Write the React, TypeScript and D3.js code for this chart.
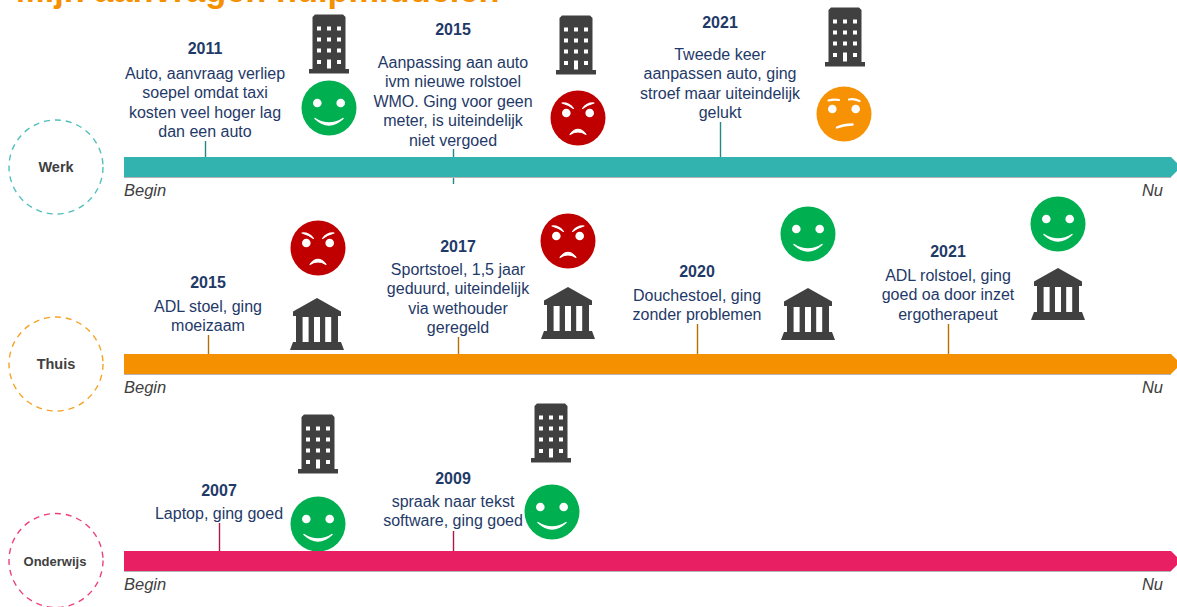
import * as d3 from 'd3';

// lanes
const laneNames = ['Werk', 'Thuis', 'Onderwijs'];
const laneColors = ['#33b3b0', '#f59100', '#e81f63'];
const title = 'Mijn aanvragen hulpmiddelen';

// werk events, position is % along the timeline
const werkYears = ['2011', '2015', '2021'];
const werkPos = [7.7, 31.2, 56.6];
const werkMoods = ['happy', 'angry', 'doubt'];
const werkIcons = ['office', 'office', 'office'];
const werkTexts = [
  ['Auto, aanvraag verliep', 'soepel omdat taxi', 'kosten veel hoger lag', 'dan een auto'],
  ['Aanpassing aan auto', 'ivm nieuwe rolstoel', 'WMO. Ging voor geen', 'meter, is uiteindelijk', 'niet vergoed'],
  ['Tweede keer', 'aanpassen auto, ging', 'stroef maar uiteindelijk', 'gelukt'],
];

// thuis events
const thuisYears = ['2015', '2017', '2020', '2021'];
const thuisPos = [8, 31.7, 54.4, 78.3];
const thuisMoods = ['angry', 'angry', 'happy', 'happy'];
const thuisIcons = ['bank', 'bank', 'bank', 'bank'];
const thuisTexts = [
  ['ADL stoel, ging', 'moeizaam'],
  ['Sportstoel, 1,5 jaar', 'geduurd, uiteindelijk', 'via wethouder', 'geregeld'],
  ['Douchestoel, ging', 'zonder problemen'],
  ['ADL rolstoel, ging', 'goed oa door inzet', 'ergotherapeut'],
];

// onderwijs events
const onderwijsYears = ['2007', '2009'];
const onderwijsPos = [9, 31.2];
const onderwijsMoods = ['happy', 'happy'];
const onderwijsIcons = ['office', 'office'];
const onderwijsTexts = [
  ['Laptop, ging goed'],
  ['spraak naar tekst', 'software, ging goed'],
];

// placement of each callout, relative to its tick and the top of the bar:
// [yearUp, textGap, faceDx, faceUp, iconDx, iconUp, tickUp, tickDown]
const werkPlace = [
  [109, 25, 124, 49, 124, 113, 16, 0],
  [128, 33, 125, 39, 123, 112, 8, 7],
  [135, 32, 124, 43, 125, 120, 35, 0],
];
const thuisPlace = [
  [72, 24, 110, 106, 109, 30, 19, 0],
  [108, 23, 110, 113, 110, 41, 17, 0],
  [83, 24, 111, 120, 111, 40, 30, 0],
  [103, 24, 110, 130, 110, 60, 30, 0],
];
const onderwijsPlace = [
  [61, 23, 99, 27, 99, 107, 28, 0],
  [73, 23, 99, 39, 98, 118, 20, 0],
];

const W = 1177;
const H = 607;
const NAVY = '#1f3a68';
const GREY = '#404040';
const FONT = '"Liberation Sans", Arial, sans-serif';
const LINE_H = 19.5;
const BAR_H = 20;

const x = d3.scaleLinear().domain([0, 100]).range([124, 1177]);
const barTop = d3.scalePoint<string>().domain(laneNames).range([157, 551]);

const moodColor: Record<string, string> = { happy: '#00b050', angry: '#c00000', doubt: '#f79205' };

const laneEvents = [
  { years: werkYears, pos: werkPos, moods: werkMoods, icons: werkIcons, texts: werkTexts, place: werkPlace },
  { years: thuisYears, pos: thuisPos, moods: thuisMoods, icons: thuisIcons, texts: thuisTexts, place: thuisPlace },
  { years: onderwijsYears, pos: onderwijsPos, moods: onderwijsMoods, icons: onderwijsIcons, texts: onderwijsTexts, place: onderwijsPlace },
];

function Face({ mood, cx, cy }: { mood: string; cx: number; cy: number }) {
  const stroke = { stroke: '#fff', fill: 'none', strokeLinecap: 'round' as const };
  return (
    <g transform={`translate(${cx},${cy})`}>
      <circle r={27.5} fill={moodColor[mood]} />
      <circle cx={-11.7} cy={-5} r={4.3} fill="#fff" />
      <circle cx={11.7} cy={-5} r={4.3} fill="#fff" />
      {mood === 'happy' && (
        // crescent, thicker in the middle
        <path
          d="M-14,10.5Q0,23.5 14,10.5Q0,19.5 -14,10.5Z"
          fill="#fff"
          stroke="#fff"
          strokeWidth={1.4}
          strokeLinejoin="round"
        />
      )}
      {mood === 'angry' && (
        <>
          <path d="M-16,-15Q-9,-15.5 -4.5,-9.5Q-9,-13 -16,-15Z" fill="#fff" stroke="#fff" strokeWidth={1.2} strokeLinejoin="round" />
          <path d="M16,-15Q9,-15.5 4.5,-9.5Q9,-13 16,-15Z" fill="#fff" stroke="#fff" strokeWidth={1.2} strokeLinejoin="round" />
          <path d="M-8,16.5Q0,6 8,16.5Q0,11.5 -8,16.5Z" fill="#fff" stroke="#fff" strokeWidth={1.2} strokeLinejoin="round" />
        </>
      )}
      {mood === 'doubt' && (
        <>
          <path d="M-15.5,-13.5Q-10,-15 -5,-14" strokeWidth={2.2} {...stroke} />
          <path d="M5,-14.5Q10,-15.5 15.5,-13" strokeWidth={2.2} {...stroke} />
          <path d="M-7,13.5Q0,10.5 8.5,10.5" strokeWidth={2.4} {...stroke} />
        </>
      )}
    </g>
  );
}

function Office({ cx, cy }: { cx: number; cy: number }) {
  const cols = [-10, 0, 10];
  const rows = [-15.5, -4.5, 6.5, 18];
  return (
    <g transform={`translate(${cx},${cy})`}>
      <path
        d="M-14,-29.5H14L16.5,-27V25H20V29.5H-20V25H-16.5V-27Z"
        fill={GREY}
      />
      {rows.map((ry, i) =>
        cols.map((cxx) =>
          i === 3 && cxx === 0 ? (
            <rect key={`${i}${cxx}`} x={-2} y={15.5} width={4} height={9} fill="#fff" />
          ) : (
            <rect key={`${i}${cxx}`} x={cxx - 2} y={ry - 2} width={4} height={4} fill="#fff" />
          )
        )
      )}
    </g>
  );
}

function Bank({ cx, cy }: { cx: number; cy: number }) {
  return (
    <g transform={`translate(${cx},${cy})`}>
      <path
        d="M0,-26L24,-12.5V-8H21V18H24L27,26H-27L-24,18H-21V-8H-24V-12.5Z"
        fill={GREY}
      />
      {[-11.4, 0, 11.2].map((gx) => (
        <rect key={gx} x={gx - 3} y={-7} width={6} height={25} fill="#fff" />
      ))}
    </g>
  );
}

export default function App() {
  return (
    <svg
      width={W}
      height={H}
      viewBox={`0 0 ${W} ${H}`}
      style={{ position: 'absolute', left: 0, top: 0, background: '#fff', fontFamily: FONT }}
    >
      <text x={16} y={2} fontSize={34.4} fontWeight="bold" fill="#f59100">{title}</text>

      {laneNames.map((lane, li) => {
        const top = barTop(lane)!;
        const color = laneColors[li];
        const ev = laneEvents[li];
        const outline = d3.line()([
          [x(0), top],
          [x(100) - 6, top],
          [x(100) + 4, top + BAR_H / 2],
          [x(100) - 6, top + BAR_H],
          [x(0), top + BAR_H],
        ]) + 'Z';
        return (
          <g key={lane}>
            <circle cx={56} cy={top + 10 - (li === 2 ? 0.5 : 0)} r={47} fill="none"
              stroke={color} strokeWidth={1.4} strokeDasharray="6 5" opacity={0.85} />
            <text x={li === 2 ? 55 : 56} y={top + 15} textAnchor="middle" fontWeight="bold"
              fontSize={li === 2 ? 13 : 14.5} fill={GREY}>{lane}</text>

            {ev.years.map((year, i) => {
              const [yearUp, textGap, faceDx, faceUp, iconDx, iconUp, tickUp, tickDown] = ev.place[i];
              const tx = Math.round(x(ev.pos[i]));
              const yearY = top - yearUp;
              return (
                <g key={year + i}>
                  <line x1={tx + 0.5} x2={tx + 0.5} y1={top - tickUp} y2={top + BAR_H + tickDown}
                    stroke={d3.color(color)!.darker(0.8).formatHex()} strokeWidth={1.4} />
                  <text x={tx} y={yearY + 5.5} textAnchor="middle" fontWeight="bold" fontSize={16} fill={NAVY}>{year}</text>
                  {ev.texts[i].map((t, k) => (
                    <text key={k} x={tx} y={yearY + textGap + k * LINE_H + 5.5} textAnchor="middle" fontSize={16} fill={NAVY}>{t}</text>
                  ))}
                  {ev.icons[i] === 'office'
                    ? <Office cx={tx + iconDx} cy={top - iconUp} />
                    : <Bank cx={tx + iconDx} cy={top - iconUp} />}
                  <Face mood={ev.moods[i]} cx={tx + faceDx} cy={top - faceUp} />
                </g>
              );
            })}

            <path d={outline} fill={color} />
            <line x1={x(0)} x2={x(100) - 6} y1={top + BAR_H + 0.5} y2={top + BAR_H + 0.5} stroke="#b5b5b5" strokeWidth={1} />
            <text x={x(0)} y={top + 39} fontStyle="italic" fontSize={16.5} fill={GREY}>Begin</text>
            <text x={1163} y={top + 39} textAnchor="end" fontStyle="italic" fontSize={16.5} fill={GREY}>Nu</text>
          </g>
        );
      })}
    </svg>
  );
}
